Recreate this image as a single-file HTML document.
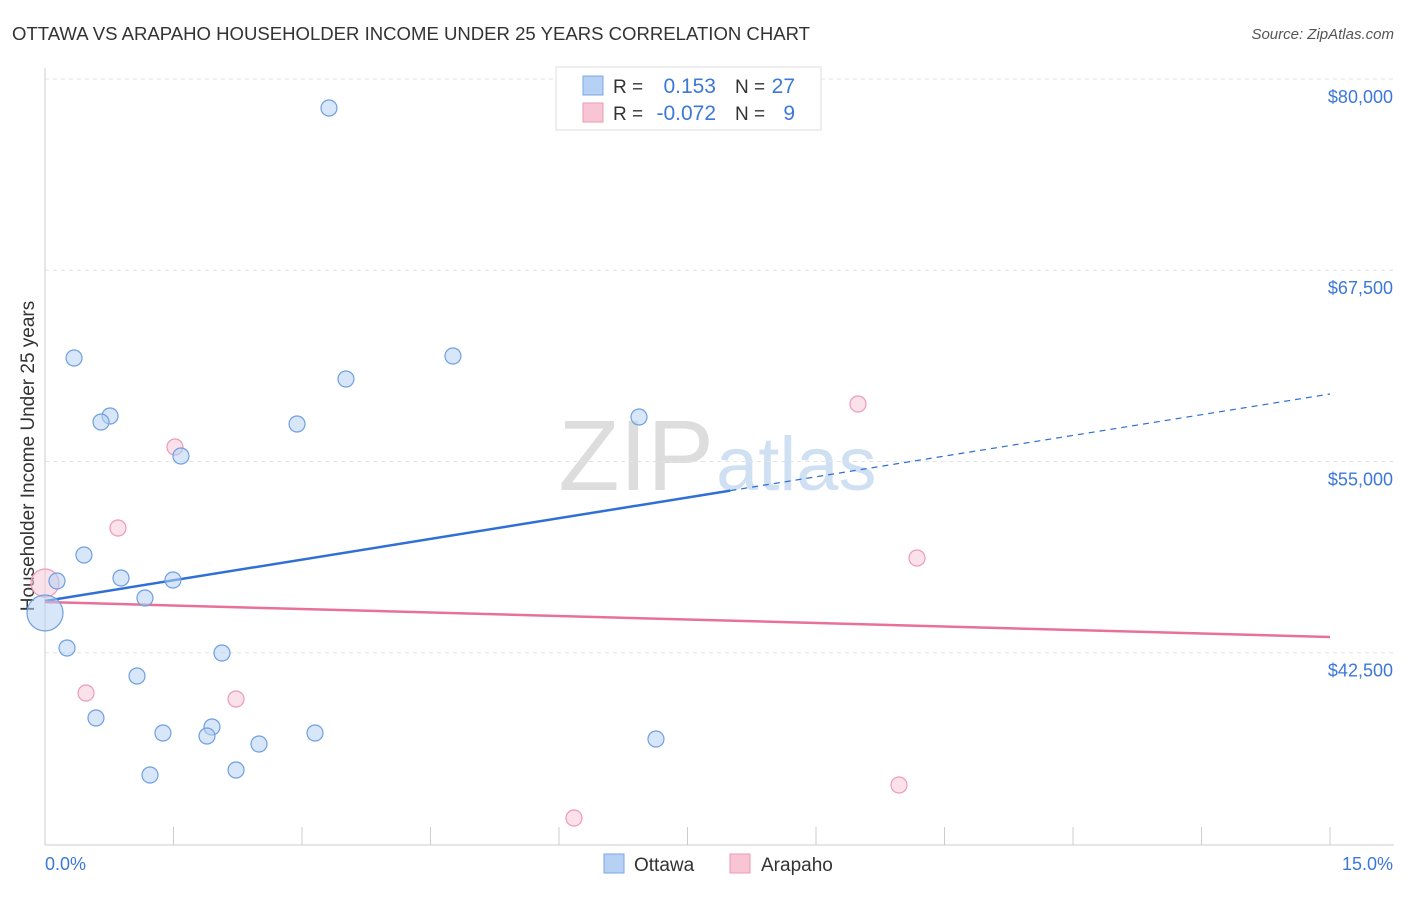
<!DOCTYPE html>
<html><head><meta charset="utf-8"><style>
body{margin:0;background:#fff;font-family:"Liberation Sans",sans-serif}
svg text{font-family:"Liberation Sans",sans-serif}
</style></head><body>
<svg id="c" width="1406" height="892" xmlns="http://www.w3.org/2000/svg">
<text x="12" y="40" font-size="18" fill="#333" textLength="798" lengthAdjust="spacingAndGlyphs">OTTAWA VS ARAPAHO HOUSEHOLDER INCOME UNDER 25 YEARS CORRELATION CHART</text>
<text x="1394" y="39" font-size="15" fill="#555" text-anchor="end" font-style="italic">Source: ZipAtlas.com</text>
<text x="714" y="490" font-size="100" fill="#ddd" text-anchor="end" font-family="Liberation Serif">ZIP</text>
<text x="716" y="490" font-size="76" fill="#cfe0f3">atlas</text>
<text transform="translate(34,456) rotate(-90)" font-size="19" fill="#333" text-anchor="middle">Householder Income Under 25 years</text>
<g id="grid"></g><g id="axes"></g><g id="trends"></g><g id="pts"></g>
<g>
<rect x="556" y="67" width="265" height="63" fill="#fff" stroke="#ddd"/>
<rect x="583" y="76" width="20" height="19" fill="#b7d1f4" stroke="#7aa7e6"/>
<rect x="583" y="103" width="20" height="19" fill="#f8c5d5" stroke="#ee9ab4"/>
<text x="613" y="93" font-size="19" fill="#333">R =</text>
<text x="716" y="93" font-size="21" fill="#3c78d8" text-anchor="end">0.153</text>
<text x="735" y="93" font-size="19" fill="#333">N =</text>
<text x="795" y="93" font-size="21" fill="#3c78d8" text-anchor="end">27</text>
<text x="613" y="120" font-size="19" fill="#333">R =</text>
<text x="716" y="120" font-size="21" fill="#3c78d8" text-anchor="end">-0.072</text>
<text x="735" y="120" font-size="19" fill="#333">N =</text>
<text x="795" y="120" font-size="21" fill="#3c78d8" text-anchor="end">9</text>
</g>
<g>
<rect x="604" y="854" width="20" height="19" fill="#b7d1f4" stroke="#7aa7e6"/>
<text x="634" y="871" font-size="19" fill="#333">Ottawa</text>
<rect x="730" y="854" width="20" height="19" fill="#f8c5d5" stroke="#ee9ab4"/>
<text x="761" y="871" font-size="19" fill="#333">Arapaho</text>
</g>
</svg>
<script>
const yTicks=[80000,67500,55000,42500];
const yTickLabels=["$80,000","$67,500","$55,000","$42,500"];
const xTickLabels=["0.0%","15.0%"];
const ottawaX=[3.315,0.339,4.762,3.513,0.759,0.654,2.942,6.934,1.587,0.455,0.887,1.494,0.140,1.167,0.0,0.257,2.066,1.074,0.595,1.377,1.949,1.891,3.152,2.498,7.132,2.230,1.226];
const ottawaY=[78105,61764,61895,60392,57974,57582,57451,57908,55359,48889,47386,47255,47189,46078,45098,42810,42483,40980,38235,37255,37647,37059,37255,36536,36863,34837,34510];
const ottawaR=[8,8,8,8,8,8,8,8,8,8,8,8,8,8,18,8,8,8,8,8,8,8,8,8,8,8,8];
const arapahoX=[0,1.517,0.852,9.490,10.179,0.479,2.230,9.969,6.175];
const arapahoY=[47059,55948,50654,58758,48693,39869,39477,33856,31699];
const arapahoR=[14,8,8,8,8,8,8,8,8];
const ottawaTrend=[45882,59412];
const arapahoTrend=[45817,43529];
const sx=v=>45+v*85.667;
const sy=v=>79+(80000-v)/65.36;
const NS="http://www.w3.org/2000/svg";
function mk(tag,attrs,parent){const e=document.createElementNS(NS,tag);for(const k in attrs)e.setAttribute(k,attrs[k]);document.getElementById(parent).appendChild(e);return e;}
yTicks.forEach((t,i)=>{
 const l=mk('line',{x1:45,x2:1394,y1:sy(t),y2:sy(t),stroke:'#e3e3e3','stroke-dasharray':'4,4'},'grid');
 
 
 const tx=mk('text',{x:1393,y:sy(t)+24,'font-size':18,fill:'#3c78d8','text-anchor':'end'},'grid');
 tx.textContent=yTickLabels[i];
 
 
});
const ax=mk('line',{x1:45,x2:1394,y1:845,y2:845,stroke:'#ccc'},'axes');


const ay=mk('line',{x1:45,x2:45,y1:68,y2:845,stroke:'#ccc'},'axes');


for(let i=0;i<=10;i++){const t=mk('line',{x1:sx(i*1.5),x2:sx(i*1.5),y1:827,y2:845,stroke:'#ccc'},'axes');
 
 }
xTickLabels.forEach((s,i)=>{const t=mk('text',{x:i?1393:45,y:870,'font-size':18,fill:'#3c78d8','text-anchor':i?'end':'start'},'axes');t.textContent=s;
 
 });
const by=x=>ottawaTrend[0]+(ottawaTrend[1]-ottawaTrend[0])*x/15;
let l1=mk('line',{x1:sx(0),y1:sy(by(0)),x2:sx(8),y2:sy(by(8)),stroke:'#2f6fd6','stroke-width':2.5},'trends');


let l2=mk('line',{x1:sx(8),y1:sy(by(8)),x2:sx(15),y2:sy(by(15)),stroke:'#2f6fd6','stroke-width':1.2,'stroke-dasharray':'6,5'},'trends');


let l3=mk('line',{x1:sx(0),y1:sy(arapahoTrend[0]),x2:sx(15),y2:sy(arapahoTrend[1]),stroke:'#e8709a','stroke-width':2.5},'trends');


arapahoX.forEach((x,i)=>{const c=mk('circle',{cx:sx(x),cy:sy(arapahoY[i]),r:arapahoR[i],fill:'rgba(248,197,213,0.5)',stroke:'#ee9ab4','stroke-width':1.2},'pts');
 
 });
ottawaX.forEach((x,i)=>{const c=mk('circle',{cx:sx(x),cy:sy(ottawaY[i]),r:ottawaR[i],fill:'rgba(183,209,244,0.55)',stroke:'#6f9fe0','stroke-width':1.2},'pts');
 
 });
</script>
</body></html>
